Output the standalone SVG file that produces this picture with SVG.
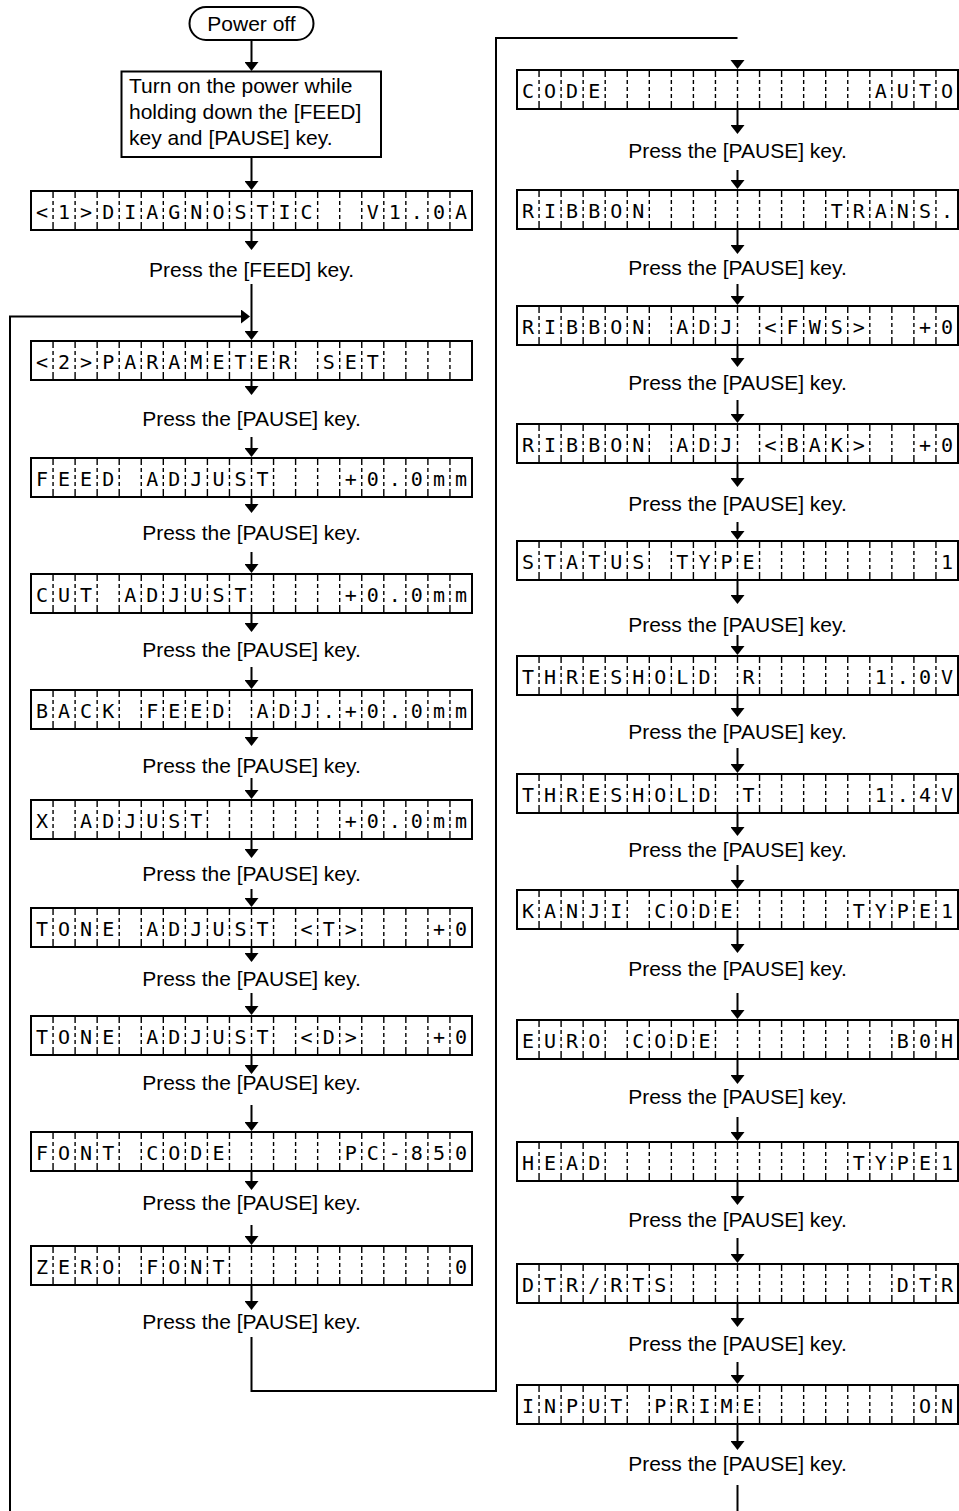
<svg xmlns="http://www.w3.org/2000/svg" xmlns:xlink="http://www.w3.org/1999/xlink" width="959" height="1511" viewBox="0 0 959 1511">
<style>
.lbl{font-family:"Liberation Sans",Arial,sans-serif;font-size:21px;fill:#000}
.mid{text-anchor:middle}
.lcdt{font-family:"DejaVu Sans Mono",monospace;font-size:20px;white-space:pre;fill:#000}
.ln{fill:none;stroke:#000;stroke-width:2}
.arr{marker-end:url(#ah)}
.frame{fill:#fff;stroke:#000;stroke-width:2}
</style>
<defs>
<marker id="ah" markerUnits="userSpaceOnUse" markerWidth="9" markerHeight="14" refX="1" refY="7" orient="auto" viewBox="0 0 9 14"><path d="M0,0 L9,7 L0,14 z" fill="#000"/></marker>
<g id="lcd">
<rect class="frame" x="0" y="1" width="441" height="39"/>
<g stroke="#000" stroke-width="1.4" stroke-dasharray="6 3 4 3 4 3 4 3 8">
<line x1="22.05" y1="2" x2="22.05" y2="40"/><line x1="44.1" y1="2" x2="44.1" y2="40"/><line x1="66.15" y1="2" x2="66.15" y2="40"/><line x1="88.2" y1="2" x2="88.2" y2="40"/><line x1="110.25" y1="2" x2="110.25" y2="40"/><line x1="132.3" y1="2" x2="132.3" y2="40"/><line x1="154.35" y1="2" x2="154.35" y2="40"/><line x1="176.4" y1="2" x2="176.4" y2="40"/><line x1="198.45" y1="2" x2="198.45" y2="40"/><line x1="220.5" y1="2" x2="220.5" y2="40"/><line x1="242.55" y1="2" x2="242.55" y2="40"/><line x1="264.6" y1="2" x2="264.6" y2="40"/><line x1="286.65" y1="2" x2="286.65" y2="40"/><line x1="308.7" y1="2" x2="308.7" y2="40"/><line x1="330.75" y1="2" x2="330.75" y2="40"/><line x1="352.8" y1="2" x2="352.8" y2="40"/><line x1="374.85" y1="2" x2="374.85" y2="40"/><line x1="396.9" y1="2" x2="396.9" y2="40"/><line x1="418.95" y1="2" x2="418.95" y2="40"/>
</g>
</g>
</defs>
<rect width="959" height="1511" fill="#fff"/>

<g id="connectors">
<path class="ln arr" d="M251.5 40V63"/>
<path class="ln arr" d="M251.5 157V182"/>
<path class="ln arr" d="M251.5 231V242"/>
<path class="ln arr" d="M251.5 284V332"/>
<path class="ln arr" d="M10 1511V316.5H242"/>
<path class="ln arr" d="M251.5 381V387"/>
<path class="ln arr" d="M251.5 437V449"/>
<path class="ln arr" d="M251.5 498V505"/>
<path class="ln arr" d="M251.5 552V565"/>
<path class="ln arr" d="M251.5 614V624"/>
<path class="ln arr" d="M251.5 667V681"/>
<path class="ln arr" d="M251.5 730V738"/>
<path class="ln arr" d="M251.5 778V791"/>
<path class="ln arr" d="M251.5 840V850"/>
<path class="ln arr" d="M251.5 889V899"/>
<path class="ln arr" d="M251.5 948V954"/>
<path class="ln arr" d="M251.5 993V1007"/>
<path class="ln arr" d="M251.5 1056V1066"/>
<path class="ln arr" d="M251.5 1105V1123"/>
<path class="ln arr" d="M251.5 1172V1182"/>
<path class="ln arr" d="M251.5 1225V1237"/>
<path class="ln arr" d="M251.5 1286V1302"/>
<path class="ln" d="M251.5 1337V1391H496V38H737.5"/>
<polygon points="730.5,60 744.5,60 737.5,69" fill="#000"/>
<path class="ln arr" d="M737.5 110V126"/>
<path class="ln arr" d="M737.5 170V181"/>
<path class="ln arr" d="M737.5 230V246"/>
<path class="ln arr" d="M737.5 284V297"/>
<path class="ln arr" d="M737.5 346V359"/>
<path class="ln arr" d="M737.5 400V415"/>
<path class="ln arr" d="M737.5 464V479"/>
<path class="ln arr" d="M737.5 522V532"/>
<path class="ln arr" d="M737.5 581V596"/>
<path class="ln arr" d="M737.5 635V647"/>
<path class="ln arr" d="M737.5 696V709"/>
<path class="ln arr" d="M737.5 748V765"/>
<path class="ln arr" d="M737.5 814V828"/>
<path class="ln arr" d="M737.5 865V881"/>
<path class="ln arr" d="M737.5 930V945"/>
<path class="ln arr" d="M737.5 993V1011"/>
<path class="ln arr" d="M737.5 1060V1076"/>
<path class="ln arr" d="M737.5 1117V1133"/>
<path class="ln arr" d="M737.5 1182V1197"/>
<path class="ln arr" d="M737.5 1238V1255"/>
<path class="ln arr" d="M737.5 1304V1319"/>
<path class="ln arr" d="M737.5 1362V1376"/>
<path class="ln arr" d="M737.5 1425V1442"/>
<path class="ln" d="M737.5 1485V1511"/>
</g>

<g id="n-poweroff">
<rect x="189.5" y="7" width="124" height="33" rx="16.5" fill="#fff" stroke="#000" stroke-width="2"/>
<text class="lbl mid" x="251.5" y="31">Power off</text>
</g>
<g id="n-turnon">
<rect x="121.5" y="71.5" width="259.5" height="85.5" fill="#fff" stroke="#000" stroke-width="2"/>
<text class="lbl" x="129" y="93">Turn on the power while</text>
<text class="lbl" x="129" y="119">holding down the [FEED]</text>
<text class="lbl" x="129" y="144.5">key and [PAUSE] key.</text>
</g>

<g id="n-l1"><use xlink:href="#lcd" x="31" y="190"/><text class="lcdt" x="36 58.05 80.1 102.15 124.2 146.25 168.3 190.35 212.4 234.45 256.5 278.55 300.6 322.65 344.7 366.75 388.8 410.85 432.9 454.95" y="219" xml:space="preserve">&lt;1&gt;DIAGNOSTIC  V1.0A</text></g>
<g id="t-l1"><text class="lbl mid" x="251.5" y="277">Press the [FEED] key.</text></g>
<g id="n-l2"><use xlink:href="#lcd" x="31" y="340"/><text class="lcdt" x="36 58.05 80.1 102.15 124.2 146.25 168.3 190.35 212.4 234.45 256.5 278.55 300.6 322.65 344.7 366.75 388.8 410.85 432.9 454.95" y="369" xml:space="preserve">&lt;2&gt;PARAMETER SET</text></g>
<g id="t-l2"><text class="lbl mid" x="251.5" y="425.5">Press the [PAUSE] key.</text></g>
<g id="n-l3"><use xlink:href="#lcd" x="31" y="457"/><text class="lcdt" x="36 58.05 80.1 102.15 124.2 146.25 168.3 190.35 212.4 234.45 256.5 278.55 300.6 322.65 344.7 366.75 388.8 410.85 432.9 454.95" y="486" xml:space="preserve">FEED ADJUST   +0.0mm</text></g>
<g id="t-l3"><text class="lbl mid" x="251.5" y="540">Press the [PAUSE] key.</text></g>
<g id="n-l4"><use xlink:href="#lcd" x="31" y="573"/><text class="lcdt" x="36 58.05 80.1 102.15 124.2 146.25 168.3 190.35 212.4 234.45 256.5 278.55 300.6 322.65 344.7 366.75 388.8 410.85 432.9 454.95" y="602" xml:space="preserve">CUT ADJUST    +0.0mm</text></g>
<g id="t-l4"><text class="lbl mid" x="251.5" y="657">Press the [PAUSE] key.</text></g>
<g id="n-l5"><use xlink:href="#lcd" x="31" y="689"/><text class="lcdt" x="36 58.05 80.1 102.15 124.2 146.25 168.3 190.35 212.4 234.45 256.5 278.55 300.6 322.65 344.7 366.75 388.8 410.85 432.9 454.95" y="718" xml:space="preserve">BACK FEED ADJ.+0.0mm</text></g>
<g id="t-l5"><text class="lbl mid" x="251.5" y="773">Press the [PAUSE] key.</text></g>
<g id="n-l6"><use xlink:href="#lcd" x="31" y="799"/><text class="lcdt" x="36 58.05 80.1 102.15 124.2 146.25 168.3 190.35 212.4 234.45 256.5 278.55 300.6 322.65 344.7 366.75 388.8 410.85 432.9 454.95" y="828" xml:space="preserve">X ADJUST      +0.0mm</text></g>
<g id="t-l6"><text class="lbl mid" x="251.5" y="881">Press the [PAUSE] key.</text></g>
<g id="n-l7"><use xlink:href="#lcd" x="31" y="907"/><text class="lcdt" x="36 58.05 80.1 102.15 124.2 146.25 168.3 190.35 212.4 234.45 256.5 278.55 300.6 322.65 344.7 366.75 388.8 410.85 432.9 454.95" y="936" xml:space="preserve">TONE ADJUST &lt;T&gt;   +0</text></g>
<g id="t-l7"><text class="lbl mid" x="251.5" y="986">Press the [PAUSE] key.</text></g>
<g id="n-l8"><use xlink:href="#lcd" x="31" y="1015"/><text class="lcdt" x="36 58.05 80.1 102.15 124.2 146.25 168.3 190.35 212.4 234.45 256.5 278.55 300.6 322.65 344.7 366.75 388.8 410.85 432.9 454.95" y="1044" xml:space="preserve">TONE ADJUST &lt;D&gt;   +0</text></g>
<g id="t-l8"><text class="lbl mid" x="251.5" y="1090">Press the [PAUSE] key.</text></g>
<g id="n-l9"><use xlink:href="#lcd" x="31" y="1131"/><text class="lcdt" x="36 58.05 80.1 102.15 124.2 146.25 168.3 190.35 212.4 234.45 256.5 278.55 300.6 322.65 344.7 366.75 388.8 410.85 432.9 454.95" y="1160" xml:space="preserve">FONT CODE     PC-850</text></g>
<g id="t-l9"><text class="lbl mid" x="251.5" y="1210">Press the [PAUSE] key.</text></g>
<g id="n-l10"><use xlink:href="#lcd" x="31" y="1245"/><text class="lcdt" x="36 58.05 80.1 102.15 124.2 146.25 168.3 190.35 212.4 234.45 256.5 278.55 300.6 322.65 344.7 366.75 388.8 410.85 432.9 454.95" y="1274" xml:space="preserve">ZERO FONT          0</text></g>
<g id="t-l10"><text class="lbl mid" x="251.5" y="1328.5">Press the [PAUSE] key.</text></g>

<g id="n-r1"><use xlink:href="#lcd" x="517" y="69"/><text class="lcdt" x="522 544.05 566.1 588.15 610.2 632.25 654.3 676.35 698.4 720.45 742.5 764.55 786.6 808.65 830.7 852.75 874.8 896.85 918.9 940.95" y="98" xml:space="preserve">CODE            AUTO</text></g>
<g id="t-r1"><text class="lbl mid" x="737.5" y="158">Press the [PAUSE] key.</text></g>
<g id="n-r2"><use xlink:href="#lcd" x="517" y="189"/><text class="lcdt" x="522 544.05 566.1 588.15 610.2 632.25 654.3 676.35 698.4 720.45 742.5 764.55 786.6 808.65 830.7 852.75 874.8 896.85 918.9 940.95" y="218" xml:space="preserve">RIBBON        TRANS.</text></g>
<g id="t-r2"><text class="lbl mid" x="737.5" y="275">Press the [PAUSE] key.</text></g>
<g id="n-r3"><use xlink:href="#lcd" x="517" y="305"/><text class="lcdt" x="522 544.05 566.1 588.15 610.2 632.25 654.3 676.35 698.4 720.45 742.5 764.55 786.6 808.65 830.7 852.75 874.8 896.85 918.9 940.95" y="334" xml:space="preserve">RIBBON ADJ &lt;FWS&gt;  +0</text></g>
<g id="t-r3"><text class="lbl mid" x="737.5" y="390">Press the [PAUSE] key.</text></g>
<g id="n-r4"><use xlink:href="#lcd" x="517" y="423"/><text class="lcdt" x="522 544.05 566.1 588.15 610.2 632.25 654.3 676.35 698.4 720.45 742.5 764.55 786.6 808.65 830.7 852.75 874.8 896.85 918.9 940.95" y="452" xml:space="preserve">RIBBON ADJ &lt;BAK&gt;  +0</text></g>
<g id="t-r4"><text class="lbl mid" x="737.5" y="511">Press the [PAUSE] key.</text></g>
<g id="n-r5"><use xlink:href="#lcd" x="517" y="540"/><text class="lcdt" x="522 544.05 566.1 588.15 610.2 632.25 654.3 676.35 698.4 720.45 742.5 764.55 786.6 808.65 830.7 852.75 874.8 896.85 918.9 940.95" y="569" xml:space="preserve">STATUS TYPE        1</text></g>
<g id="t-r5"><text class="lbl mid" x="737.5" y="632">Press the [PAUSE] key.</text></g>
<g id="n-r6"><use xlink:href="#lcd" x="517" y="655"/><text class="lcdt" x="522 544.05 566.1 588.15 610.2 632.25 654.3 676.35 698.4 720.45 742.5 764.55 786.6 808.65 830.7 852.75 874.8 896.85 918.9 940.95" y="684" xml:space="preserve">THRESHOLD R     1.0V</text></g>
<g id="t-r6"><text class="lbl mid" x="737.5" y="738.5">Press the [PAUSE] key.</text></g>
<g id="n-r7"><use xlink:href="#lcd" x="517" y="773"/><text class="lcdt" x="522 544.05 566.1 588.15 610.2 632.25 654.3 676.35 698.4 720.45 742.5 764.55 786.6 808.65 830.7 852.75 874.8 896.85 918.9 940.95" y="802" xml:space="preserve">THRESHOLD T     1.4V</text></g>
<g id="t-r7"><text class="lbl mid" x="737.5" y="857">Press the [PAUSE] key.</text></g>
<g id="n-r8"><use xlink:href="#lcd" x="517" y="889"/><text class="lcdt" x="522 544.05 566.1 588.15 610.2 632.25 654.3 676.35 698.4 720.45 742.5 764.55 786.6 808.65 830.7 852.75 874.8 896.85 918.9 940.95" y="918" xml:space="preserve">KANJI CODE     TYPE1</text></g>
<g id="t-r8"><text class="lbl mid" x="737.5" y="976">Press the [PAUSE] key.</text></g>
<g id="n-r9"><use xlink:href="#lcd" x="517" y="1019"/><text class="lcdt" x="522 544.05 566.1 588.15 610.2 632.25 654.3 676.35 698.4 720.45 742.5 764.55 786.6 808.65 830.7 852.75 874.8 896.85 918.9 940.95" y="1048" xml:space="preserve">EURO CODE        B0H</text></g>
<g id="t-r9"><text class="lbl mid" x="737.5" y="1104">Press the [PAUSE] key.</text></g>
<g id="n-r10"><use xlink:href="#lcd" x="517" y="1141"/><text class="lcdt" x="522 544.05 566.1 588.15 610.2 632.25 654.3 676.35 698.4 720.45 742.5 764.55 786.6 808.65 830.7 852.75 874.8 896.85 918.9 940.95" y="1170" xml:space="preserve">HEAD           TYPE1</text></g>
<g id="t-r10"><text class="lbl mid" x="737.5" y="1227">Press the [PAUSE] key.</text></g>
<g id="n-r11"><use xlink:href="#lcd" x="517" y="1263"/><text class="lcdt" x="522 544.05 566.1 588.15 610.2 632.25 654.3 676.35 698.4 720.45 742.5 764.55 786.6 808.65 830.7 852.75 874.8 896.85 918.9 940.95" y="1292" xml:space="preserve">DTR/RTS          DTR</text></g>
<g id="t-r11"><text class="lbl mid" x="737.5" y="1351">Press the [PAUSE] key.</text></g>
<g id="n-r12"><use xlink:href="#lcd" x="517" y="1384"/><text class="lcdt" x="522 544.05 566.1 588.15 610.2 632.25 654.3 676.35 698.4 720.45 742.5 764.55 786.6 808.65 830.7 852.75 874.8 896.85 918.9 940.95" y="1413" xml:space="preserve">INPUT PRIME       ON</text></g>
<g id="t-r12"><text class="lbl mid" x="737.5" y="1471">Press the [PAUSE] key.</text></g>
</svg>
